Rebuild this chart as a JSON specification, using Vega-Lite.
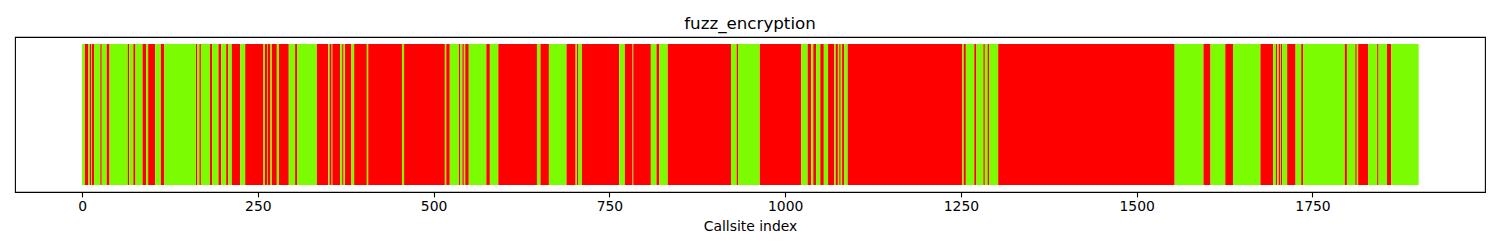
{
  "$schema": "https://vega.github.io/schema/vega-lite/v6.json",
  "autosize": "none",
  "width": 1470,
  "height": 155,
  "padding": {"left": 15, "top": 37, "right": 15, "bottom": 58},
  "background": "white",
  "title": {"text": "fuzz_encryption", "font": "DejaVu Sans", "fontSize": 16.7, "fontWeight": "normal", "color": "black", "anchor": "middle", "offset": 4},
  "config": {
    "view": {"stroke": "black", "strokeWidth": 1.1},
    "axis": {"grid": false}
  },
  "data": {"values": [
    {"from": 0, "to": 4, "status": "green"},
    {"from": 4, "to": 9, "status": "red"},
    {"from": 9, "to": 11, "status": "green"},
    {"from": 11, "to": 13, "status": "red"},
    {"from": 13, "to": 14, "status": "green"},
    {"from": 14, "to": 17, "status": "red"},
    {"from": 17, "to": 26, "status": "green"},
    {"from": 26, "to": 28, "status": "red"},
    {"from": 28, "to": 35, "status": "green"},
    {"from": 35, "to": 39, "status": "red"},
    {"from": 39, "to": 65, "status": "green"},
    {"from": 65, "to": 67, "status": "red"},
    {"from": 67, "to": 73, "status": "green"},
    {"from": 73, "to": 76, "status": "red"},
    {"from": 76, "to": 86, "status": "green"},
    {"from": 86, "to": 91, "status": "red"},
    {"from": 91, "to": 94, "status": "green"},
    {"from": 94, "to": 104, "status": "red"},
    {"from": 104, "to": 112, "status": "green"},
    {"from": 112, "to": 117, "status": "red"},
    {"from": 117, "to": 162, "status": "green"},
    {"from": 162, "to": 164, "status": "red"},
    {"from": 164, "to": 167, "status": "green"},
    {"from": 167, "to": 169, "status": "red"},
    {"from": 169, "to": 182, "status": "green"},
    {"from": 182, "to": 185, "status": "red"},
    {"from": 185, "to": 194, "status": "green"},
    {"from": 194, "to": 198, "status": "red"},
    {"from": 198, "to": 205, "status": "green"},
    {"from": 205, "to": 208, "status": "red"},
    {"from": 208, "to": 213, "status": "green"},
    {"from": 213, "to": 225, "status": "red"},
    {"from": 225, "to": 232, "status": "green"},
    {"from": 232, "to": 258, "status": "red"},
    {"from": 258, "to": 260, "status": "green"},
    {"from": 260, "to": 263, "status": "red"},
    {"from": 263, "to": 264, "status": "green"},
    {"from": 264, "to": 268, "status": "red"},
    {"from": 268, "to": 270, "status": "green"},
    {"from": 270, "to": 277, "status": "red"},
    {"from": 277, "to": 280, "status": "green"},
    {"from": 280, "to": 294, "status": "red"},
    {"from": 294, "to": 303, "status": "green"},
    {"from": 303, "to": 306, "status": "red"},
    {"from": 306, "to": 334, "status": "green"},
    {"from": 334, "to": 350, "status": "red"},
    {"from": 350, "to": 352, "status": "green"},
    {"from": 352, "to": 355, "status": "red"},
    {"from": 355, "to": 356, "status": "green"},
    {"from": 356, "to": 367, "status": "red"},
    {"from": 367, "to": 370, "status": "green"},
    {"from": 370, "to": 372, "status": "red"},
    {"from": 372, "to": 374, "status": "green"},
    {"from": 374, "to": 383, "status": "red"},
    {"from": 383, "to": 387, "status": "green"},
    {"from": 387, "to": 405, "status": "red"},
    {"from": 405, "to": 407, "status": "green"},
    {"from": 407, "to": 455, "status": "red"},
    {"from": 455, "to": 458, "status": "green"},
    {"from": 458, "to": 516, "status": "red"},
    {"from": 516, "to": 518, "status": "green"},
    {"from": 518, "to": 523, "status": "red"},
    {"from": 523, "to": 536, "status": "green"},
    {"from": 536, "to": 538, "status": "red"},
    {"from": 538, "to": 541, "status": "green"},
    {"from": 541, "to": 543, "status": "red"},
    {"from": 543, "to": 545, "status": "green"},
    {"from": 545, "to": 550, "status": "red"},
    {"from": 550, "to": 575, "status": "green"},
    {"from": 575, "to": 580, "status": "red"},
    {"from": 580, "to": 592, "status": "green"},
    {"from": 592, "to": 647, "status": "red"},
    {"from": 647, "to": 652, "status": "green"},
    {"from": 652, "to": 664, "status": "red"},
    {"from": 664, "to": 689, "status": "green"},
    {"from": 689, "to": 702, "status": "red"},
    {"from": 702, "to": 704, "status": "green"},
    {"from": 704, "to": 706, "status": "red"},
    {"from": 706, "to": 711, "status": "green"},
    {"from": 711, "to": 764, "status": "red"},
    {"from": 764, "to": 772, "status": "green"},
    {"from": 772, "to": 783, "status": "red"},
    {"from": 783, "to": 784, "status": "green"},
    {"from": 784, "to": 809, "status": "red"},
    {"from": 809, "to": 817, "status": "green"},
    {"from": 817, "to": 821, "status": "red"},
    {"from": 821, "to": 833, "status": "green"},
    {"from": 833, "to": 923, "status": "red"},
    {"from": 923, "to": 931, "status": "green"},
    {"from": 931, "to": 933, "status": "red"},
    {"from": 933, "to": 964, "status": "green"},
    {"from": 964, "to": 1023, "status": "red"},
    {"from": 1023, "to": 1032, "status": "green"},
    {"from": 1032, "to": 1037, "status": "red"},
    {"from": 1037, "to": 1040, "status": "green"},
    {"from": 1040, "to": 1044, "status": "red"},
    {"from": 1044, "to": 1050, "status": "green"},
    {"from": 1050, "to": 1055, "status": "red"},
    {"from": 1055, "to": 1061, "status": "green"},
    {"from": 1061, "to": 1070, "status": "red"},
    {"from": 1070, "to": 1072, "status": "green"},
    {"from": 1072, "to": 1075, "status": "red"},
    {"from": 1075, "to": 1077, "status": "green"},
    {"from": 1077, "to": 1079, "status": "red"},
    {"from": 1079, "to": 1081, "status": "green"},
    {"from": 1081, "to": 1084, "status": "red"},
    {"from": 1084, "to": 1089, "status": "green"},
    {"from": 1089, "to": 1252, "status": "red"},
    {"from": 1252, "to": 1254, "status": "green"},
    {"from": 1254, "to": 1257, "status": "red"},
    {"from": 1257, "to": 1269, "status": "green"},
    {"from": 1269, "to": 1272, "status": "red"},
    {"from": 1272, "to": 1282, "status": "green"},
    {"from": 1282, "to": 1284, "status": "red"},
    {"from": 1284, "to": 1288, "status": "green"},
    {"from": 1288, "to": 1290, "status": "red"},
    {"from": 1290, "to": 1303, "status": "green"},
    {"from": 1303, "to": 1554, "status": "red"},
    {"from": 1554, "to": 1595, "status": "green"},
    {"from": 1595, "to": 1605, "status": "red"},
    {"from": 1605, "to": 1626, "status": "green"},
    {"from": 1626, "to": 1637, "status": "red"},
    {"from": 1637, "to": 1676, "status": "green"},
    {"from": 1676, "to": 1694, "status": "red"},
    {"from": 1694, "to": 1698, "status": "green"},
    {"from": 1698, "to": 1700, "status": "red"},
    {"from": 1700, "to": 1702, "status": "green"},
    {"from": 1702, "to": 1704, "status": "red"},
    {"from": 1704, "to": 1705, "status": "green"},
    {"from": 1705, "to": 1707, "status": "red"},
    {"from": 1707, "to": 1714, "status": "green"},
    {"from": 1714, "to": 1726, "status": "red"},
    {"from": 1726, "to": 1734, "status": "green"},
    {"from": 1734, "to": 1737, "status": "red"},
    {"from": 1737, "to": 1796, "status": "green"},
    {"from": 1796, "to": 1799, "status": "red"},
    {"from": 1799, "to": 1811, "status": "green"},
    {"from": 1811, "to": 1813, "status": "red"},
    {"from": 1813, "to": 1815, "status": "green"},
    {"from": 1815, "to": 1829, "status": "red"},
    {"from": 1829, "to": 1842, "status": "green"},
    {"from": 1842, "to": 1844, "status": "red"},
    {"from": 1844, "to": 1856, "status": "green"},
    {"from": 1856, "to": 1862, "status": "red"},
    {"from": 1862, "to": 1901, "status": "green"}
  ]},
  "mark": {"type": "rect", "strokeWidth": 0},
  "encoding": {
    "x": {
      "field": "from", "type": "quantitative",
      "scale": {"domain": [-95.4, 1995.4], "nice": false, "zero": false},
      "axis": {
        "title": "Callsite index",
        "values": [0, 250, 500, 750, 1000, 1250, 1500, 1750],
        "format": "d",
        "domain": false,
        "tickColor": "black", "tickSize": 4.9, "tickWidth": 1.1,
        "labelFont": "DejaVu Sans", "labelFontSize": 13.9, "labelColor": "black", "labelPadding": 3,
        "titleFont": "DejaVu Sans", "titleFontSize": 13.9, "titleFontWeight": "normal", "titleColor": "black", "titlePadding": 6
      }
    },
    "x2": {"field": "to"},
    "y": {"datum": 0, "type": "quantitative", "scale": {"domain": [-0.05, 1.05], "nice": false, "zero": false}, "axis": null},
    "y2": {"datum": 1},
    "color": {"field": "status", "type": "nominal", "scale": {"domain": ["red", "green"], "range": ["#ff0000", "#7cfc00"]}, "legend": null}
  }
}
